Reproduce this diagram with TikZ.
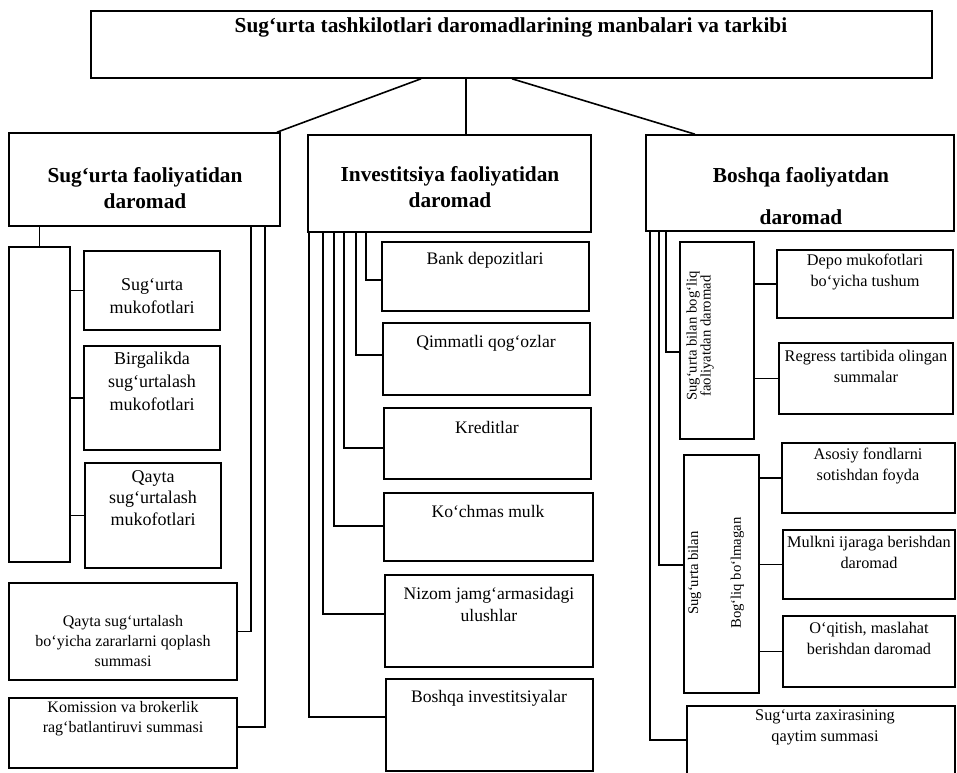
\documentclass[tikz,border=0pt]{standalone}
\usepackage{fontspec}
\setmainfont{Liberation Serif}
\usetikzlibrary{calc}
\newcommand\bxat[5]{\node[bx, minimum width={(#4-#2)*0.75pt}, minimum height={(#5-#3)*0.75pt}] (#1) at ({(#2+#4)/2},{(#3+#5)/2}) {};}
\begin{document}
\begin{tikzpicture}[x=0.75pt,y=-0.75pt,
  bx/.style={draw, line width=1.2pt, inner sep=0pt},
  ln/.style={line width=1.2pt},
  ttl/.style={font=\fontsize{16}{20}\selectfont\bfseries, inner sep=0pt},
  hd/.style={font=\fontsize{16}{20}\selectfont\bfseries, align=center, inner sep=0pt},
  tL/.style={font=\fontsize{13.5}{17.2}\selectfont, align=center, inner sep=0pt},
  tLs/.style={font=\fontsize{12}{15}\selectfont, align=center, inner sep=0pt},
  tM/.style={font=\fontsize{13.2}{16.5}\selectfont, align=center, inner sep=0pt},
  tR/.style={font=\fontsize{12.2}{15.8}\selectfont, align=center, inner sep=0pt},
  tRot/.style={font=\fontsize{11}{10.5}\selectfont, align=center, inner sep=0pt, rotate=90}]
\useasboundingbox (0,0) rectangle (957,773);
% title and headers
\bxat{T}{91}{11}{932}{78}
\node[ttl] (Tt) at (511,27) {Sug‘urta tashkilotlari daromadlarining manbalari va tarkibi};
\bxat{H1}{9}{133}{280}{226}
\node[hd] (H1t) at (145,188) {Sug‘urta faoliyatidan\\daromad};
\bxat{H2}{308}{135}{591}{232}
\node[hd, font=\fontsize{16}{19}\selectfont\bfseries] (H2t) at (450,187) {Investitsiya faoliyatidan\\daromad};
\bxat{H3}{646}{135}{954}{231}
\node[hd, font=\fontsize{16}{32}\selectfont\bfseries] (H3t) at (801,196) {Boshqa faoliyatdan\\daromad};
\coordinate (ts1) at (421,0); \coordinate (hs1) at (277,0);
\coordinate (ts2) at (466,0);
\coordinate (ts3) at (512,0); \coordinate (hs3) at (695,0);
\draw[ln] (T.south -| ts1) -- (H1.north -| hs1);
\draw[ln] (T.south -| ts2) -- (H2.north -| ts2);
\draw[ln] (T.south -| ts3) -- (H3.north -| hs3);
% left column
\bxat{tall}{9}{247}{70}{562}
\bxat{L1}{84}{251}{220}{330}
\node[tL] (L1t) at (152,296) {Sug‘urta\\mukofotlari};
\bxat{L2}{84}{346}{220}{450}
\node[tL] (L2t) at (152,381) {Birgalikda\\sug‘urtalash\\mukofotlari};
\bxat{L3}{85}{463}{221}{568}
\node[tL, font=\fontsize{13.5}{16.1}\selectfont] (L3t) at (153,498) {Qayta\\sug‘urtalash\\mukofotlari};
\bxat{L4}{9}{583}{237}{680}
\node[tLs] (L4t) at (123,641) {Qayta sug‘urtalash\\bo‘yicha zararlarni qoplash\\summasi};
\bxat{L5}{9}{698}{237}{768}
\node[tLs] (L5t) at (123,719) {Komission va brokerlik\\rag‘batlantiruvi summasi};
\draw[ln] (tall.north) -- (tall.north |- H1.south);
\draw[ln] (tall.east |- L1.west) -- (L1.west);
\draw[ln] (tall.east |- L2.west) -- (L2.west);
\draw[ln] (tall.east |- L3.west) -- (L3.west);
\coordinate (v1) at (251,0);
\coordinate (v2) at (265,727);
\draw[ln] (H1.south -| v1) |- (L4.east);
\draw[ln] (H1.south -| v2) |- (L5.east |- v2);
% middle column
\bxat{M1}{382}{242}{589}{311}
\node[tM] (M1t) at (485,260) {Bank depozitlari};
\bxat{M2}{383}{323}{590}{395}
\node[tM] (M2t) at (486,343) {Qimmatli qog‘ozlar};
\bxat{M3}{384}{408}{591}{479}
\node[tM] (M3t) at (487,427) {Kreditlar};
\bxat{M4}{384}{493}{593}{561}
\node[tM] (M4t) at (488,511) {Ko‘chmas mulk};
\bxat{M5}{385}{575}{593}{667}
\node[tM] (M5t) at (489,604) {Nizom jamg‘armasidagi\\ulushlar};
\bxat{M6}{386}{679}{593}{771}
\node[tM] (M6t) at (489,698) {Boshqa investitsiyalar};
\coordinate (mc1) at (366,280);
\coordinate (mc2) at (356,355);
\coordinate (mc3) at (344,448);
\coordinate (mc4) at (334,526);
\coordinate (mc5) at (323,614);
\coordinate (mc6) at (309,717);
\draw[ln] (H2.south -| mc1) |- (M1.west |- mc1);
\draw[ln] (H2.south -| mc2) |- (M2.west |- mc2);
\draw[ln] (H2.south -| mc3) |- (M3.west |- mc3);
\draw[ln] (H2.south -| mc4) |- (M4.west |- mc4);
\draw[ln] (H2.south -| mc5) |- (M5.west |- mc5);
\draw[ln] (H2.south -| mc6) |- (M6.west |- mc6);
% right column
\bxat{A}{680}{242}{754}{439}
\node[tRot] (At) at (700,336) {Sug‘urta bilan bog‘liq\\faoliyatdan daromad};
\bxat{R1}{777}{250}{953}{318}
\node[tR] (R1t) at (865,272) {Depo mukofotlari\\bo‘yicha tushum};
\bxat{R2}{779}{343}{953}{414}
\node[tR] (R2t) at (866,366) {Regress tartibida olingan\\summalar};
\bxat{B}{684}{455}{759}{693}
\node[tRot, font=\fontsize{11}{32}\selectfont] (Bt) at (716,573) {Sug‘urta bilan\\Bog‘liq bo‘lmagan};
\bxat{R3}{782}{443}{955}{513}
\node[tR] (R3t) at (868,466) {Asosiy fondlarni\\sotishdan foyda};
\bxat{R4}{783}{530}{955}{599}
\node[tR] (R4t) at (869,552) {Mulkni ijaraga berishdan\\daromad};
\bxat{R5}{783}{616}{955}{687}
\node[tR] (R5t) at (869,638) {O‘qitish, maslahat\\berishdan daromad};
\bxat{R6}{687}{706}{955}{795}
\node[tR] (R6t) at (825,727) {Sug‘urta zaxirasining\\qaytim summasi};
\coordinate (rc1) at (666,352);
\coordinate (rc2) at (659,565);
\coordinate (rc3) at (650,740);
\draw[ln] (H3.south -| rc1) |- (A.west |- rc1);
\draw[ln] (H3.south -| rc2) |- (B.west |- rc2);
\draw[ln] (H3.south -| rc3) |- (R6.west |- rc3);
\draw[ln] (A.east |- R1.west) -- (R1.west);
\draw[ln] (A.east |- R2.west) -- (R2.west);
\draw[ln] (B.east |- R3.west) -- (R3.west);
\draw[ln] (B.east |- R4.west) -- (R4.west);
\draw[ln] (B.east |- R5.west) -- (R5.west);
\end{tikzpicture}
\end{document}
